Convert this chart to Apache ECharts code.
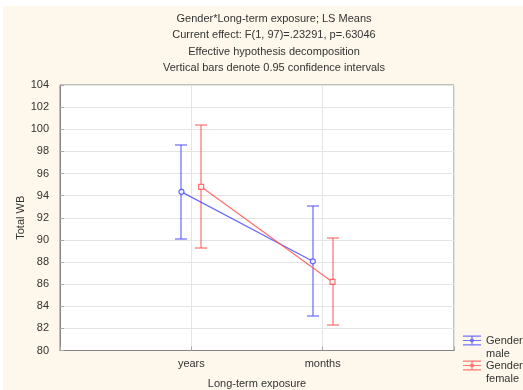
<!DOCTYPE html>
<html>
<head>
<meta charset="utf-8">
<script src="https://cdn.jsdelivr.net/npm/echarts@6/dist/echarts.min.js"></script>
<style>
  html, body { margin: 0; padding: 0; background: #ffffff; }
  #wrap { position: relative; width: 523px; height: 390px; background: #ffffff; overflow: hidden; }
  #paper { position: absolute; left: 3px; top: 6px; right: 0; bottom: 0; background: #fef8ec; }
  #chart { position: absolute; left: 0; top: 0; width: 523px; height: 390px; }
</style>
</head>
<body>
<div id="wrap">
  <div id="paper"></div>
  <div id="chart"></div>
</div>
<script>
// LS means of Total WB by long-term exposure, split by gender, with 95% CIs
const categories = ['years', 'months'];
const maleMean   = [94.34, 88.06];
const maleLow    = [90.1, 83.1];
const maleHigh   = [98.6, 93.1];
const femaleMean = [94.8, 86.2];
const femaleLow  = [89.3, 82.3];
const femaleHigh = [100.4, 90.2];
const titleLines = [
  'Gender*Long-term exposure; LS Means',
  'Current effect: F(1, 97)=.23291, p=.63046',
  'Effective hypothesis decomposition',
  'Vertical bars denote 0.95 confidence intervals'
];

const BLUE = '#4f4fff';
const RED = '#ff5555';
const FONT = 'Liberation Sans, Arial, sans-serif';
const SHIFT = 0.075; // horizontal dodge so the two groups don't overlap

const meanPoints = (means, dx) => means.map((v, i) => [i + 1 + dx, v]);
const barPoints = (lows, highs, dx) => lows.map((lo, i) => [i + 1 + dx, lo, highs[i]]);

// whisker: vertical stem from low to high with a cap at each end
function errorBars(color) {
  return function (params, api) {
    const x = api.value(0);
    const lo = api.coord([x, api.value(1)]);
    const hi = api.coord([x, api.value(2)]);
    const half = 6;
    const px = Math.round(lo[0]);
    const yl = Math.round(lo[1]);
    const yh = Math.round(hi[1]);
    const seg = (x1, y1, x2, y2) => ({
      type: 'line',
      shape: { x1: x1, y1: y1, x2: x2, y2: y2 },
      style: { stroke: color, lineWidth: 1.2, opacity: 0.85 }
    });
    return {
      type: 'group',
      children: [
        seg(px, yl, px, yh),
        seg(px - half, yh, px + half, yh),
        seg(px - half, yl, px + half, yl)
      ]
    };
  };
}

const legendIcon = 'path://M0,0H18V1.2H0Z M0,8.8H18V10H0Z M0,4.4H18V5.6H0Z M8.4,0H9.6V10H8.4Z M9,3A2,2 0 1 1 8.99,3Z';

function legendFor(name, top) {
  return {
    left: 458, top: top, orient: 'vertical',
    itemWidth: 18, itemHeight: 10, itemGap: 0,
    data: [{ name: name, icon: legendIcon, itemStyle: { opacity: 0.8 } }],
    // leading blank line keeps the icon level with the first text line
    formatter: n => '\n' + n.replace(': ', ':\n'),
    textStyle: { fontFamily: FONT, fontSize: 11, color: '#333', lineHeight: 13 }
  };
}

const chart = echarts.init(document.getElementById('chart'), null, { renderer: 'canvas' });
chart.setOption({
  backgroundColor: 'transparent',
  animation: false,
  title: {
    text: titleLines.join('\n'),
    left: 269, top: 6, textAlign: 'center',
    textStyle: { fontFamily: FONT, fontSize: 11, fontWeight: 'normal', color: '#333', lineHeight: 16.3 }
  },
  legend: [legendFor('Gender: male', 316), legendFor('Gender: female', 341)],
  grid: {
    left: 60, right: 69, top: 85, bottom: 39.5,
    outerBoundsMode: 'none', containLabel: false,
    show: true, backgroundColor: '#ffffff', borderColor: '#858585', borderWidth: 1
  },
  xAxis: {
    type: 'value', min: 0, max: 3, interval: 1,
    name: 'Long-term exposure', nameLocation: 'middle', nameGap: 28, nameMoveOverlap: false,
    nameTextStyle: { fontFamily: FONT, fontSize: 11, color: '#333', verticalAlign: 'top' },
    axisLine: { show: true, lineStyle: { color: '#858585' } },
    axisTick: { show: true, inside: true, length: 4, lineStyle: { color: '#aaa' } },
    axisLabel: {
      fontFamily: FONT, fontSize: 11, color: '#333', margin: 8,
      formatter: v => (v >= 1 && v <= categories.length && Number.isInteger(v)) ? categories[v - 1] : ''
    },
    splitLine: { show: true, lineStyle: { color: '#e4e4e4' } }
  },
  yAxis: {
    type: 'value', min: 80, max: 104, interval: 2,
    name: 'Total WB', nameLocation: 'middle', nameGap: 34, nameMoveOverlap: false,
    nameTextStyle: { fontFamily: FONT, fontSize: 11, color: '#333' },
    axisLine: { show: true, lineStyle: { color: '#858585' } },
    axisTick: { show: true, inside: true, length: 4, lineStyle: { color: '#aaa' } },
    axisLabel: { fontFamily: FONT, fontSize: 11, color: '#333', margin: 11 },
    splitLine: { show: true, lineStyle: { color: '#e4e4e4' } }
  },
  series: [
    {
      name: 'Gender: male', type: 'custom', data: barPoints(maleLow, maleHigh, -SHIFT),
      itemStyle: { color: BLUE, borderColor: BLUE },
      renderItem: errorBars(BLUE), z: 3, silent: true
    },
    {
      name: 'Gender: female', type: 'custom', data: barPoints(femaleLow, femaleHigh, SHIFT),
      itemStyle: { color: RED, borderColor: RED },
      renderItem: errorBars(RED), z: 3, silent: true
    },
    {
      name: 'Gender: male', type: 'line', data: meanPoints(maleMean, -SHIFT),
      color: BLUE, symbol: 'circle', symbolSize: 5, z: 5,
      itemStyle: { color: '#ffffff', borderColor: BLUE, borderWidth: 1.2, opacity: 0.85 },
      lineStyle: { color: BLUE, width: 1.2, opacity: 0.85 }
    },
    {
      name: 'Gender: female', type: 'line', data: meanPoints(femaleMean, SHIFT),
      color: RED, symbol: 'rect', symbolSize: 5, z: 5,
      itemStyle: { color: '#ffffff', borderColor: RED, borderWidth: 1.2, opacity: 0.85 },
      lineStyle: { color: RED, width: 1.2, opacity: 0.85 }
    }
  ]
});
</script>
</body>
</html>
